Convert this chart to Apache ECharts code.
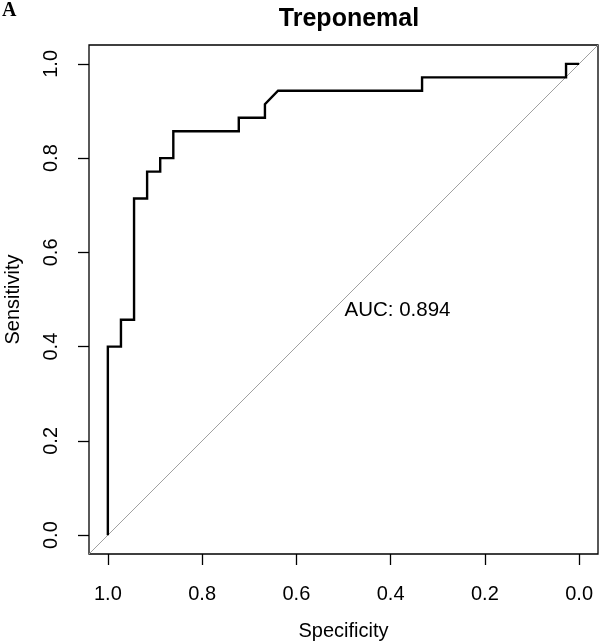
<!DOCTYPE html>
<html>
<head>
<meta charset="utf-8">
<script src="https://cdn.jsdelivr.net/npm/echarts@6/dist/echarts.min.js"></script>
<style>
html,body{margin:0;padding:0;background:#fff;}
#chart{width:600px;height:644px;}
</style>
</head>
<body>
<div id="chart"></div>
<script>
// ROC curve vertices (specificity, sensitivity)
var specificity = [1.0, 1.0, 0.9722, 0.9722, 0.9444, 0.9444, 0.9167, 0.9167, 0.8889, 0.8889, 0.8611, 0.8611, 0.7222, 0.7222, 0.6667, 0.6667, 0.6389, 0.3333, 0.3333, 0.0278, 0.0278, 0.0];
var sensitivity = [0.0, 0.4, 0.4, 0.4571, 0.4571, 0.7143, 0.7143, 0.7714, 0.7714, 0.8, 0.8, 0.8571, 0.8571, 0.8857, 0.8857, 0.9143, 0.9429, 0.9429, 0.9714, 0.9714, 1.0, 1.0];
// identity (chance) line, spanning the plotting region
var identityX = [1.04, -0.04];
var identityY = [-0.04, 1.04];
var tickValues = [0, 0.2, 0.4, 0.6, 0.8, 1.0];
var aucText = 'AUC: 0.894';
var aucPos = [0.5, 0.476];
var titleText = 'Treponemal';
var panelLabel = 'A';

var curve = specificity.map(function (s, i) { return [s, sensitivity[i]]; });
var ident = identityX.map(function (x, i) { return [x, identityY[i]]; });

var FONT = '"Liberation Sans", Arial, sans-serif';
var chart = echarts.init(document.getElementById('chart'), null, {renderer: 'canvas'});
chart.setOption({
  animation: false,
  backgroundColor: '#fff',
  title: {
    text: titleText,
    left: 344,
    textAlign: 'center',
    top: 2,
    textStyle: {fontFamily: FONT, fontWeight: 'bold', fontSize: 25, color: '#000'}
  },
  graphic: [{
    type: 'text', left: 2, top: 1,
    style: {text: panelLabel, font: 'bold 20px "Liberation Serif", "Times New Roman", serif', fill: '#000'}
  }],
  grid: {left: 89, right: 2, top: 45, bottom: 90, outerBoundsMode: 'none', containLabel: false,
    show: true, borderColor: '#000', borderWidth: 1.3, backgroundColor: 'transparent'},
  xAxis: {
    type: 'value', inverse: true, min: -0.04, max: 1.04,
    name: 'Specificity', nameLocation: 'middle', nameGap: 67,
    nameTextStyle: {fontFamily: FONT, fontSize: 20, color: '#000'},
    axisLine: {show: false, onZero: false},
    splitLine: {show: false},
    axisTick: {show: true, length: 11, inside: false, customValues: tickValues, lineStyle: {color: '#000', width: 1.3}},
    axisLabel: {customValues: tickValues, margin: 30, fontFamily: FONT, fontSize: 20, color: '#000',
      formatter: function (v) { return v.toFixed(1); }}
  },
  yAxis: {
    type: 'value', min: -0.04, max: 1.04,
    name: 'Sensitivity', nameLocation: 'middle', nameGap: 66, nameRotate: 90,
    nameTextStyle: {fontFamily: FONT, fontSize: 20, color: '#000'},
    axisLine: {show: false, onZero: false},
    splitLine: {show: false},
    axisTick: {show: true, length: 11, inside: false, customValues: tickValues, lineStyle: {color: '#000', width: 1.3}},
    axisLabel: {customValues: tickValues, rotate: 90, margin: 28, fontFamily: FONT, fontSize: 20, color: '#000',
      formatter: function (v) { return v.toFixed(1); }}
  },
  series: [
    {
      type: 'line', data: ident, showSymbol: false, symbol: 'none', silent: true,
      lineStyle: {color: '#A0A0A0', width: 1}, z: 1
    },
    {
      type: 'line', data: curve, showSymbol: false, symbol: 'none', silent: true,
      lineStyle: {color: '#000', width: 2.4, join: 'miter'}, z: 2
    },
    {
      type: 'scatter', data: [aucPos], symbolSize: 0, silent: true,
      itemStyle: {opacity: 1},
      label: {show: true, position: 'right', distance: 1, formatter: aucText,
        fontFamily: FONT, fontSize: 20.5, color: '#000', opacity: 1}, z: 3
    }
  ]
});
</script>
</body>
</html>
